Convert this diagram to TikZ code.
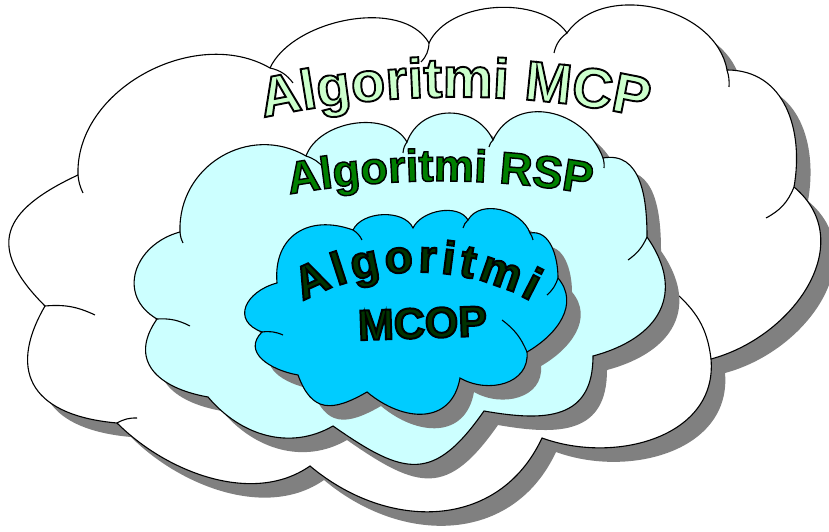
\documentclass[tikz,border=0pt]{standalone}
\usepackage{fontspec}
\setmainfont{Liberation Sans}
\usetikzlibrary{shadows}
\definecolor{rspcloud}{HTML}{CCFFFF}
\definecolor{mcopcloud}{HTML}{00CCFF}
\definecolor{shadowgray}{HTML}{808080}
\newcommand\mcpfont{\fontsize{56}{60}\selectfont\bfseries}
\newcommand\rspfont{\fontsize{45}{50}\selectfont\bfseries}
\newcommand\mcopfont{\fontsize{46}{50}\selectfont\bfseries}
% filled letters with a black stroke round them
\newcommand\wordart[3]{{\addfontfeature{FakeBold=#1}%
  \special{pdf:bcolor [#2] [0 0 0]}#3\special{pdf:ecolor}}}
\tikzset{puffy/.style={draw,line width=1.1pt,fill=#1,
    drop shadow={shadow xshift=14pt,shadow yshift=-14pt,opacity=1,fill=shadowgray}}}
\tikzset{tail/.style={draw,line width=1.1pt}}
\tikzset{mcpletter/.style={anchor=base,inner sep=0pt,font=\mcpfont}}
\tikzset{rspletter/.style={anchor=base,inner sep=0pt,font=\rspfont}}
\tikzset{mcopletter/.style={anchor=base,inner sep=0pt,font=\mcopfont}}

\begin{document}
\begin{tikzpicture}[x=1pt,y=1pt]
  \useasboundingbox (0,0) rectangle (829,532);
  % outer cloud (MCP)
  \coordinate (o1) at (78,357);
  \coordinate (o2) at (270,464);
  \coordinate (o3) at (429,489);
  \coordinate (o4) at (567,499);
  \coordinate (o5) at (727,462);
  \coordinate (o6) at (794,345);
  \coordinate (o7) at (711,173);
  \coordinate (o8) at (542,94);
  \coordinate (o9) at (310,66);
  \coordinate (o10) at (117,109);
  \coordinate (o11) at (45,226);
  \path[puffy=white] (o1) to[out=92,in=150,looseness=1] (o2)
    to[out=65,in=120,looseness=.85] (o3)
    to[out=65,in=125,looseness=.87] (o4)
    to[out=55,in=100,looseness=1] (o5)
    to[out=0,in=80,looseness=1.1] (o6)
    to[out=-40,in=15,looseness=1.15] (o7)
    to[out=-85,in=-20,looseness=1.07] (o8)
    to[out=-115,in=-40,looseness=1.12] (o9)
    to[out=-145,in=-45,looseness=.9] (o10)
    to[out=175,in=-120,looseness=1.5] (o11)
    to[out=135,in=-155,looseness=1.6] (o1) -- cycle;
  \draw[tail] (o2) to[bend left=20] (293,449);
  \draw[tail] (o3) to[bend left=20] (421,470);
  \draw[tail] (554,479) to[bend left=20] (o4);
  \draw[tail] (o5) to[bend left=10] (729,445);
  \draw[tail] (o6) to[bend left=20] (766,314);
  \draw[tail] (679,236) to[bend left=20] (o7);
  \draw[tail] (o10) to[bend left=15] (137,114);
  \draw[tail] (o11) to[bend left=15] (95,217);
  \draw[tail] (83,339) to[bend left=10] (o1);
  % middle cloud (RSP)
  \coordinate (m1) at (180,300);
  \coordinate (m2) at (306,376);
  \coordinate (m3) at (407,390);
  \coordinate (m4) at (493,392);
  \coordinate (m5) at (603,374);
  \coordinate (m6) at (647,295);
  \coordinate (m7) at (593,176);
  \coordinate (m8) at (484,121);
  \coordinate (m9) at (333,106);
  \coordinate (m10) at (208,135);
  \coordinate (m11) at (157,213);
  \path[puffy=rspcloud] (m1) to[out=92,in=150,looseness=1.15] (m2)
    to[out=70,in=120,looseness=.95] (m3)
    to[out=70,in=115,looseness=1.2] (m4)
    to[out=65,in=110,looseness=1.2] (m5)
    to[out=10,in=90,looseness=1.1] (m6)
    to[out=-55,in=15,looseness=1.35] (m7)
    to[out=-90,in=-10,looseness=1.33] (m8)
    to[out=-125,in=-35,looseness=1.48] (m9)
    to[out=-150,in=-50,looseness=1] (m10)
    to[out=170,in=-125,looseness=1.4] (m11)
    to[out=150,in=-165,looseness=1.35] (m1) -- cycle;
  \draw[tail] (183,289) to[bend left=10] (m1);
  \draw[tail] (m2) to[bend left=15] (324,364);
  \draw[tail] (403,379) to[bend left=15] (m3);
  \draw[tail] (489,385) to[bend left=15] (m4);
  \draw[tail] (m5) to[bend left=10] (604,364);
  \draw[tail] (m6) to[bend left=15] (628,272);
  \draw[tail] (m11) to[bend left=15] (190,206);
  % inner cloud (MCOP)
  \coordinate (n1) at (277,249);
  \coordinate (n2) at (353,302);
  \coordinate (n3) at (413,304);
  \coordinate (n4) at (468,312);
  \coordinate (n5) at (530,299);
  \coordinate (n6) at (558,254);
  \coordinate (n7) at (527,180);
  \coordinate (n8) at (460,154);
  \coordinate (n9) at (367,140);
  \coordinate (n10) at (298,157);
  \coordinate (n11) at (262,200);
  \path[puffy=mcopcloud] (n1) to[out=95,in=160,looseness=1.3] (n2)
    to[out=65,in=115,looseness=.9] (n3)
    to[out=65,in=120,looseness=.9] (n4)
    to[out=60,in=110,looseness=1] (n5)
    to[out=10,in=90,looseness=1] (n6)
    to[out=-50,in=30,looseness=1.1] (n7)
    to[out=-85,in=-30,looseness=1.15] (n8)
    to[out=-100,in=-40,looseness=1.3] (n9)
    to[out=-150,in=-70,looseness=1.45] (n10)
    to[out=170,in=-135,looseness=1.3] (n11)
    to[out=160,in=-165,looseness=1.65] (n1) -- cycle;
  \draw[tail] (n2) to[bend left=15] (362,292);
  \draw[tail] (463,304) to[bend left=15] (n4);
  \draw[tail] (n5) to[bend left=10] (533,292);
  \draw[tail] (n6) to[bend left=15] (547,237);
  \draw[tail] (502,212) to[bend left=15] (n7);
  \draw[tail] (n11) to[bend left=15] (283,197);
  % arched titles, one letter at a time (arc length from the middle)
  \begin{scope}[shift={(455,-465)}]
    \foreach \ch/\s [count=\i] in {A/-172.7,l/-144.7,g/-119.8,o/-85.6,r/-57.6,
        i/-38.9,t/-21.8,m/12.4,i/45.1,M/91.8,C/135.3,P/174.2}
      \node[mcpletter,rotate=-\s*0.06366] (mcp-\i) at ({90-\s*0.06366}:900)
        {\wordart{3.4}{0.8 1 0.8}{\ch}};
  \end{scope}
  \begin{scope}[shift={(440,-511)}]
    \foreach \ch/\s [count=\i] in {A/-135,l/-112.5,g/-92.5,o/-65,r/-42.5,
        i/-27.5,t/-13.75,m/13.75,i/40,R/75,S/106.25,P/136.25}
      \node[rspletter,rotate=-\s*0.06647] (rsp-\i) at ({90-\s*0.06647}:862)
        {\wordart{3.2}{0 0.5 0}{\ch}};
  \end{scope}
  \begin{scope}[shift={(417,22)}]
    \foreach \ch/\s [count=\i] in {A/-102.4,l/-74.9,g/-49.95,o/-17.35,r/10.15,
        i/30,t/48.55,m/81.15,i/112.5}
      \node[mcopletter,rotate=-\s*0.24074] (mcop-\i) at ({90-\s*0.24074}:238)
        {\wordart{4.3}{0 0.2 0}{\ch}};
  \end{scope}
  \node[anchor=base,rotate=2,inner sep=0pt,
    font=\fontsize{43}{45}\selectfont\bfseries] (mcop) at (423,194)
    {\wordart{4.6}{0 0.2 0}{MCOP}};
\end{tikzpicture}
\end{document}
